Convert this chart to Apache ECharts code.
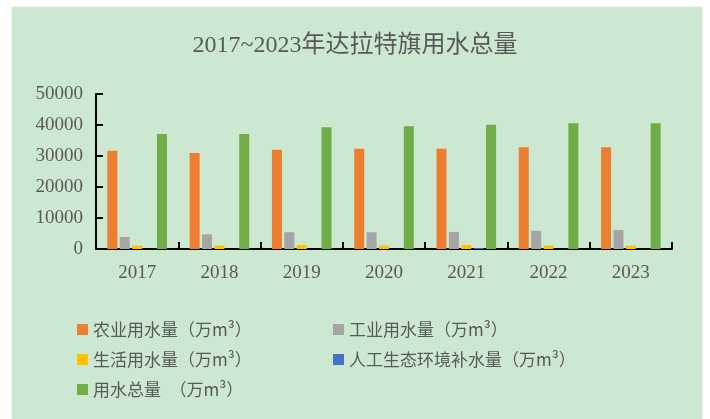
<!DOCTYPE html>
<html>
<head>
<meta charset="utf-8">
<title>达拉特旗用水总量</title>
<script src="https://cdn.jsdelivr.net/npm/echarts@6/dist/echarts.min.js"></script>
<style>
    html, body { margin: 0; padding: 0; background: #ffffff; }
    #panel { position: absolute; left: 12px; top: 7px; width: 690px; height: 412px; background: #cde8d0; box-shadow: 0 0 2px #d8d8d8; }
    #myChart { position: absolute; left: 0; top: 0; width: 710px; height: 419px; }
</style>
</head>
<body>
<div id="panel"></div>
<div id="myChart"></div>
<script>
// 年份
var years = ["2017", "2018", "2019", "2020", "2021", "2022", "2023"];
// 各类用水量（万m³）
var agriWater = [31700, 30950, 32000, 32350, 32350, 32800, 32800];
var induWater = [3900, 4750, 5400, 5400, 5500, 5900, 6150];
var lifeWater = [1100, 1100, 1300, 1100, 1300, 1100, 1100];
var ecoWater = [0, 0, 0, 0, 300, 0, 0];
var totalWater = [37100, 37100, 39250, 39600, 40100, 40550, 40550];
// 纵轴刻度
var yTicks = [0, 10000, 20000, 30000, 40000, 50000];

var seriesNames = [
    "农业用水量（万m³）",
    "工业用水量（万m³）",
    "生活用水量（万m³）",
    "人工生态环境补水量（万m³）",
    "用水总量\u3000（万m³）"
];
var seriesData = [agriWater, induWater, lifeWater, ecoWater, totalWater];
var colors = ["#ed7d31", "#a5a5a5", "#ffc000", "#4472c4", "#70ad47"];

var serifFont = "'Liberation Serif', 'DejaVu Serif', 'Noto Sans CJK SC', serif";
var sansFont = "'Noto Sans CJK SC', sans-serif";

var series = [];
for (var i = 0; i < seriesNames.length; i++) {
    series.push({
        name: seriesNames[i],
        type: "bar",
        barWidth: 10,
        barGap: "24%",
        itemStyle: { color: colors[i] },
        data: seriesData[i]
    });
}

// 图例分两列摆放
var legendPos = [[72, 316], [328, 316], [72, 346], [328, 346], [72, 376]];
var legends = [];
for (var j = 0; j < seriesNames.length; j++) {
    legends.push({
        data: [seriesNames[j]],
        left: legendPos[j][0],
        top: legendPos[j][1],
        itemWidth: 11,
        itemHeight: 11,
        icon: "rect",
        textStyle: { fontFamily: sansFont, fontSize: 17, color: "#595959" }
    });
}

var chart = echarts.init(document.getElementById("myChart"), null, { renderer: "canvas" });
var option = {
    backgroundColor: "transparent",
    animation: false,
    color: colors,
    title: {
        text: "2017~2023年达拉特旗用水总量",
        left: "center",
        top: 29,
        textStyle: { fontFamily: serifFont, fontSize: 24, fontWeight: "normal", color: "#595959" }
    },
    legend: legends,
    grid: { left: 96, right: 38, top: 94, bottom: 170 },
    xAxis: {
        type: "category",
        data: years,
        axisLine: { lineStyle: { color: "#000000", width: 2 } },
        axisTick: { show: true, inside: true, length: 7, lineStyle: { color: "#000000", width: 2 } },
        axisLabel: { fontFamily: serifFont, fontSize: 19, color: "#595959", margin: 15 }
    },
    yAxis: {
        type: "value",
        min: yTicks[0],
        max: yTicks[yTicks.length - 1],
        interval: yTicks[1] - yTicks[0],
        splitLine: { show: false },
        axisLine: { show: true, lineStyle: { color: "#000000", width: 2 } },
        axisTick: { show: true, inside: true, length: 7, lineStyle: { color: "#000000", width: 2 } },
        axisLabel: {
            fontFamily: serifFont, fontSize: 19, color: "#595959", margin: 13,
            formatter: function (v) { return String(v); }
        }
    },
    series: series
};
if (option && option.series) {
    chart.setOption(option);
}
</script>
</body>
</html>
